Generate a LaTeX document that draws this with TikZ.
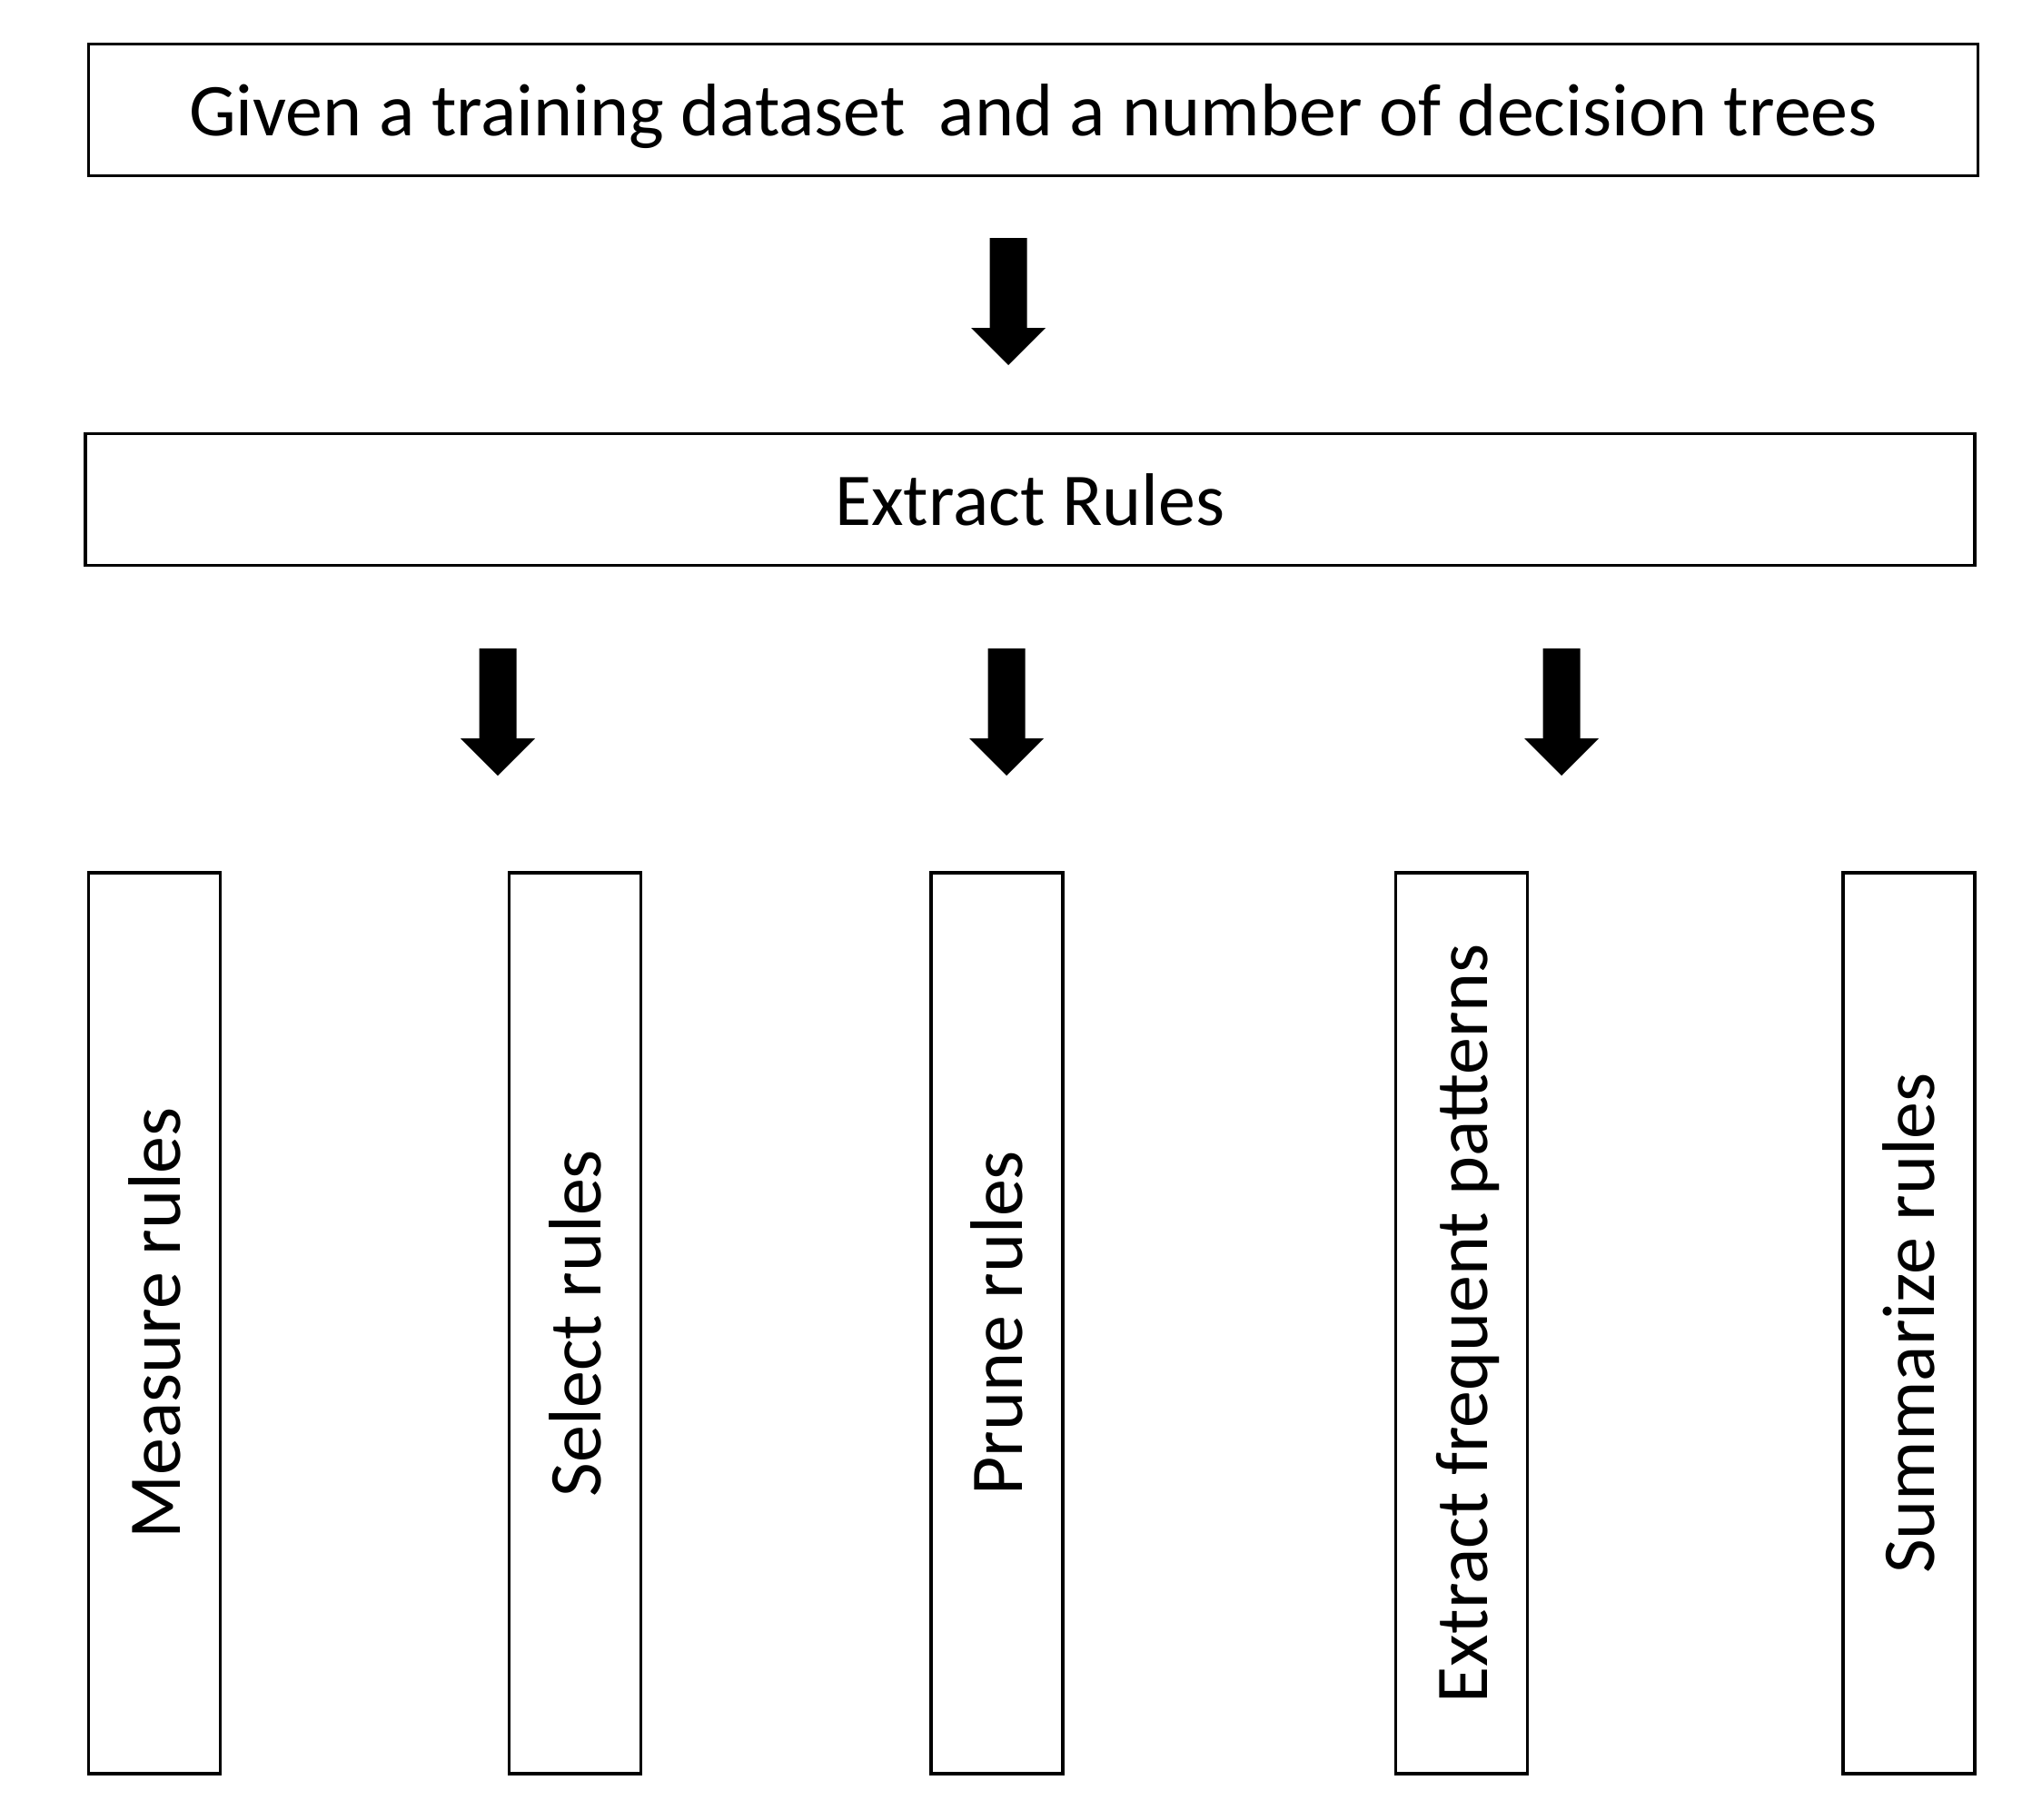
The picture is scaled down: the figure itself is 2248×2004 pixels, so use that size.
\documentclass[tikz,border=0pt]{standalone}
\usepackage{fontspec}
\setmainfont{Carlito}
\begin{document}
\begin{tikzpicture}[x=1pt,y=-1pt,
  box/.style={draw=black, line width=3.5pt, inner sep=0pt, text depth=0pt,
    font=\fontsize{82}{98}\selectfont},
  hbox/.style={box, minimum width=2080pt, minimum height=145pt},
  vbox/.style={box, rotate=90, minimum width=992pt, minimum height=145pt},
  pics/downarrow/.style={code={
    \fill[black] (-20.5,0) -- (20.5,0) -- (20.5,99) -- (41,99) -- (0,140)
      -- (-41,99) -- (-20.5,99) -- cycle;}}
]
\useasboundingbox (0,0) rectangle (2248,2004);

% header boxes
\node[hbox] (given) at (1137.5,121) {Given a training dataset\ \ and a number of decision trees};
\node[hbox] (extract) at (1134,550) {Extract Rules};

% block arrows
\pic at (1110,262) {downarrow};
\pic at (548,714) {downarrow};
\pic at (1108,714) {downarrow};
\pic at (1719,714) {downarrow};

% vertical step boxes
\node[vbox] (measure) at (170,1457) {Measure rules};
\node[vbox] (select)  at (633,1457) {Select rules};
\node[vbox] (prune)   at (1097.5,1457) {Prune rules};
\node[vbox] (freq)    at (1609,1457) {Extract frequent patterns};
\node[vbox] (summ)    at (2101.5,1457) {Summarize rules};
\end{tikzpicture}
\end{document}
